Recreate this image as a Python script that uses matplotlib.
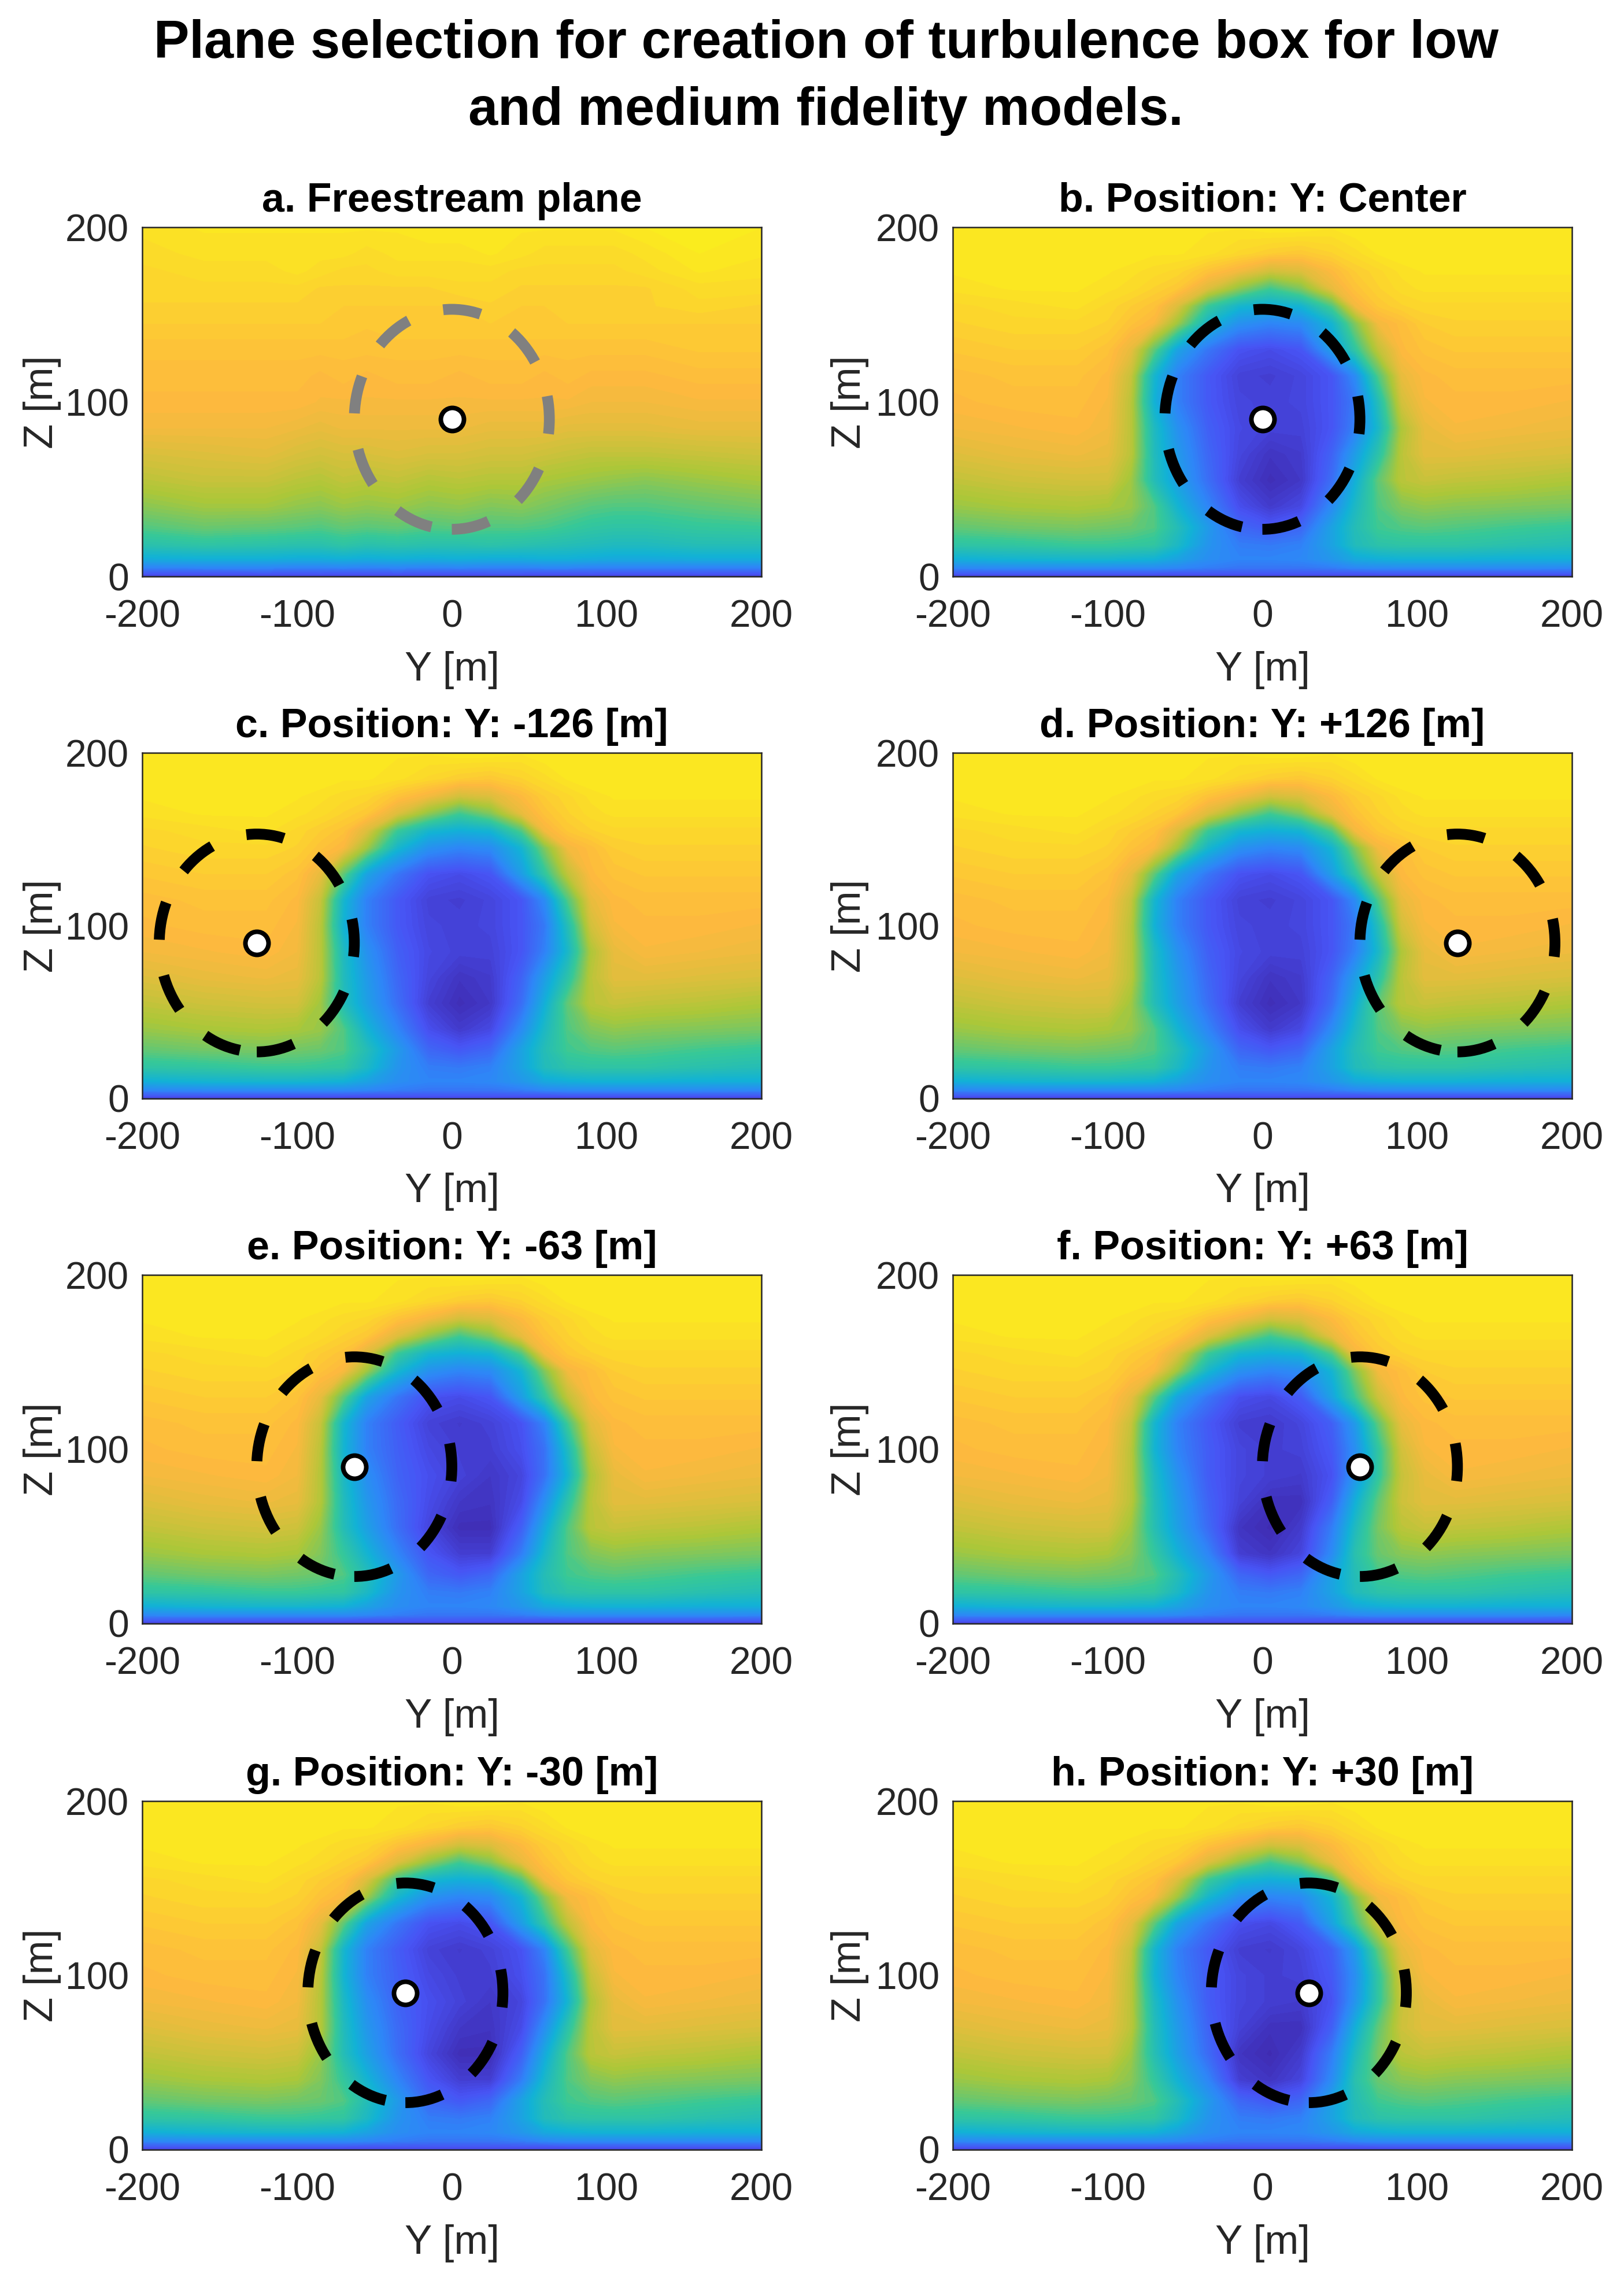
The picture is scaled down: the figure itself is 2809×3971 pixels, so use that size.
import numpy as np
from matplotlib import pyplot as plt
from matplotlib.colors import LinearSegmentedColormap
from matplotlib.patches import Ellipse

plt.rcParams['font.family'] = ['Liberation Sans', 'DejaVu Sans']
plt.rcParams['axes.unicode_minus'] = False

W, H = 2809, 3971
DPI = 300

# grid nodes of the sampled plane, metres
Y_NODES = [-200, -160, -120, -100, -85, -70, -55, -35, -15, 5, 25, 45, 60, 75, 90, 105, 125, 160, 200]
Z_NODES = [0, 2, 5, 10, 18, 28, 40, 55, 70, 85, 100, 115, 130, 145, 155, 165, 175, 185, 200]

# field, as percent of the colour scale
FREESTREAM = [
    [9, 9, 9, 9, 9, 9, 9, 9, 9, 9, 9, 9, 9, 9, 9, 9, 9, 9, 9],
    [17, 16, 17, 16, 17, 16, 16, 17, 16, 16, 17, 17, 16, 16, 17, 16, 16, 17, 16],
    [27, 28, 28, 27, 27, 28, 27, 28, 27, 28, 27, 27, 28, 28, 27, 27, 27, 27, 27],
    [41, 42, 42, 41, 41, 42, 41, 42, 41, 42, 41, 41, 42, 42, 41, 40, 40, 41, 41],
    [52, 54, 53, 52, 52, 54, 52, 53, 52, 52, 53, 52, 51, 50, 49, 48, 48, 50, 50],
    [60, 63, 62, 61, 60, 62, 61, 62, 60, 61, 60, 60, 59, 57, 55, 54, 54, 56, 57],
    [67, 70, 70, 68, 67, 69, 68, 69, 67, 68, 66, 67, 65, 63, 61, 60, 60, 62, 64],
    [74, 76, 76, 74, 73, 75, 74, 75, 73, 74, 73, 73, 71, 70, 69, 68, 67, 69, 71],
    [79, 80, 81, 79, 78, 79, 79, 80, 79, 79, 78, 78, 77, 76, 75, 75, 75, 76, 77],
    [84, 84, 84, 83, 82, 83, 83, 83, 83, 83, 82, 82, 82, 81, 81, 81, 81, 82, 82],
    [86, 86, 86, 86, 85, 85, 85, 85, 85, 85, 85, 85, 85, 85, 84, 84, 84, 85, 85],
    [87, 87, 87, 87, 86, 87, 86, 87, 87, 86, 87, 87, 86, 87, 86, 86, 86, 87, 87],
    [88, 88, 88, 88, 88, 88, 88, 88, 88, 88, 88, 88, 88, 88, 88, 88, 88, 89, 89],
    [90, 90, 90, 90, 90, 90, 89, 90, 90, 90, 90, 90, 90, 90, 90, 90, 90, 90, 90],
    [91, 91, 91, 91, 91, 90, 90, 90, 90, 90, 91, 90, 90, 91, 91, 91, 91, 92, 91],
    [92, 92, 92, 92, 91, 91, 91, 91, 91, 92, 92, 91, 91, 91, 91, 91, 91, 93, 93],
    [92, 93, 93, 94, 93, 92, 92, 93, 93, 93, 93, 92, 92, 92, 92, 92, 93, 95, 94],
    [93, 94, 94, 94, 94, 94, 93, 94, 94, 94, 95, 94, 93, 93, 93, 93, 94, 96, 95],
    [94, 95, 95, 95, 95, 95, 95, 95, 96, 96, 96, 95, 95, 95, 95, 95, 96, 97, 96],
]

# wake planes: bottom and top rows are shared, the middle differs with the position
WAKE_BOTTOM = [
    [9, 9, 9, 9, 9, 9, 9, 9, 10, 10, 10, 9, 9, 9, 9, 9, 9, 9, 9],
    [17, 17, 17, 17, 17, 17, 16, 16, 16, 16, 16, 16, 16, 17, 17, 17, 17, 17, 17],
    [29, 30, 30, 30, 30, 30, 29, 26, 24, 24, 24, 26, 29, 30, 30, 30, 30, 30, 29],
    [42, 44, 45, 45, 44, 43, 38, 31, 28, 28, 29, 34, 40, 42, 43, 43, 43, 42, 42],
    [54, 55, 57, 57, 56, 55, 47, 33, 26, 25, 27, 38, 49, 53, 54, 54, 54, 52, 50],
    [62, 64, 65, 64, 63, 60, 50, 35, 20, 16, 20, 38, 50, 58, 60, 61, 60, 58, 56],
]
WAKE_TOP = [
    [91, 92, 92, 91, 88, 85, 70, 45, 32, 28, 30, 44, 66, 84, 87, 90, 91, 91, 91],
    [92, 93, 94, 92, 90, 88, 80, 57, 45, 42, 44, 60, 84, 89, 91, 92, 92, 92, 92],
    [94, 95, 95, 94, 93, 91, 89, 80, 68, 58, 66, 82, 88, 91, 93, 94, 94, 94, 94],
    [95, 96, 96, 95, 94, 93, 92, 88, 84, 78, 80, 86, 90, 92, 94, 95, 95, 95, 95],
    [96, 96, 96, 96, 96, 95, 95, 94, 92, 90, 89, 91, 93, 95, 96, 96, 96, 96, 96],
    [95, 96, 96, 96, 96, 96, 96, 95, 95, 96, 96, 95, 96, 96, 96, 96, 96, 96, 96],
]
WAKE_MID_CENTER = [
    [69, 71, 72, 71, 69, 60, 44, 28, 13, 7, 11, 30, 47, 60, 66, 68, 67, 66, 65],
    [75, 77, 78, 78, 70, 50, 37, 22, 8, 3, 6, 22, 42, 62, 74, 76, 75, 74, 72],
    [80, 82, 83, 82, 74, 49, 35, 20, 10, 5, 7, 19, 36, 53, 74, 81, 81, 80, 79],
    [84, 85, 86, 84, 74, 48, 32, 18, 11, 9, 9, 15, 27, 46, 72, 82, 85, 84, 83],
    [86, 87, 87, 85, 74, 43, 27, 16, 10, 9, 10, 15, 25, 50, 78, 85, 86, 86, 85],
    [87, 88, 88, 86, 76, 45, 27, 16, 9, 8, 10, 15, 30, 60, 82, 86, 87, 87, 87],
    [89, 90, 90, 88, 82, 62, 38, 24, 14, 12, 15, 36, 55, 75, 86, 88, 89, 89, 89],
]
WAKE_MID_LEFT = [
    [69, 71, 72, 71, 66, 56, 44, 28, 15, 8, 8, 26, 46, 60, 66, 68, 67, 66, 65],
    [75, 77, 78, 77, 69, 50, 37, 22, 10, 3, 3, 18, 40, 60, 74, 76, 75, 74, 72],
    [80, 82, 83, 82, 73, 49, 34, 21, 12, 6, 5, 12, 31, 53, 74, 81, 81, 80, 79],
    [84, 85, 86, 84, 73, 47, 31, 19, 13, 9, 6, 10, 23, 44, 72, 82, 85, 84, 83],
    [86, 87, 87, 85, 74, 44, 27, 18, 11, 8, 8, 13, 23, 48, 76, 85, 86, 86, 85],
    [87, 88, 88, 86, 76, 45, 27, 17, 9, 7, 9, 14, 28, 58, 81, 86, 87, 87, 87],
    [89, 90, 90, 88, 82, 62, 38, 24, 14, 12, 15, 36, 55, 75, 86, 88, 89, 89, 89],
]
WAKE_MID_RIGHT = [
    [69, 71, 72, 71, 67, 56, 43, 28, 8, 5, 10, 30, 52, 63, 67, 68, 67, 66, 65],
    [75, 77, 78, 78, 70, 51, 37, 21, 5, 2, 7, 26, 48, 65, 74, 76, 75, 74, 72],
    [80, 82, 83, 82, 74, 50, 35, 19, 9, 4, 4, 18, 42, 62, 77, 81, 81, 80, 79],
    [84, 85, 86, 84, 74, 48, 32, 17, 10, 8, 7, 14, 33, 55, 76, 82, 85, 84, 83],
    [86, 87, 87, 85, 74, 44, 28, 17, 10, 8, 9, 16, 31, 55, 78, 85, 86, 86, 85],
    [87, 88, 88, 86, 76, 45, 27, 16, 8, 7, 10, 18, 35, 62, 82, 86, 87, 87, 87],
    [89, 90, 90, 88, 82, 62, 38, 24, 13, 11, 17, 38, 58, 77, 86, 88, 89, 89, 89],
]

TITLES = ['a. Freestream plane', 'b. Position: Y: Center',
          'c. Position: Y: -126 [m]', 'd. Position: Y: +126 [m]',
          'e. Position: Y: -63 [m]', 'f. Position: Y: +63 [m]',
          'g. Position: Y: -30 [m]', 'h. Position: Y: +30 [m]']
ROTOR_Y = [0, 0, -126, 126, -63, 63, -30, 30]
HUB_Z = 90
ROTOR_R = 63
Y_TICKS = [-200, -100, 0, 100, 200]
Z_TICKS = [0, 100, 200]

center = WAKE_BOTTOM + WAKE_MID_CENTER + WAKE_TOP
left = WAKE_BOTTOM + WAKE_MID_LEFT + WAKE_TOP
right = WAKE_BOTTOM + WAKE_MID_RIGHT + WAKE_TOP
FIELDS = [FREESTREAM, center, center, center, left, right, left, right]

parula = LinearSegmentedColormap.from_list('parula', [
    (0.0, (.2422, .1504, .6603)),
    (0.143, (.2810, .3228, .9579)),
    (0.286, (.1786, .5289, .9682)),
    (0.429, (.0689, .6948, .8394)),
    (0.571, (.2161, .7843, .5923)),
    (0.714, (.6720, .7793, .2227)),
    (0.86, (.9950, .7250, .2450)),
    (1.0, (.9769, .9839, .0805)),
], N=256)

# axes boxes in reference pixels
LEFTS = [246, 1648]
TOPS = [393, 1302, 2205, 3115]
BOTTOMS = [997, 1900, 2808, 3718]
BOX_W = 1071
YLABEL_X = [-0.131, -0.135]

fig = plt.figure(figsize=(W / DPI, H / DPI), dpi=DPI)
fig.text(0.5086, 1 - 76 / H, 'Plane selection for creation of turbulence box for low',
         ha='center', va='center', fontsize=22.1, fontweight='bold')
fig.text(0.5086, 1 - 192 / H, 'and medium fidelity models.',
         ha='center', va='center', fontsize=22.1, fontweight='bold')

levels = np.arange(0, 101, 1.2)
for i, title in enumerate(TITLES):
    row, col = i // 2, i % 2
    ax = fig.add_axes([LEFTS[col] / W, 1 - BOTTOMS[row] / H, BOX_W / W, (BOTTOMS[row] - TOPS[row]) / H])
    ax.contourf(Y_NODES, Z_NODES, FIELDS[i], levels=levels, cmap=parula, vmin=0, vmax=100)

    edge = 'gray' if i == 0 else 'black'
    ax.add_patch(Ellipse((ROTOR_Y[i], HUB_Z), 2 * ROTOR_R, 2 * ROTOR_R, fill=False, ec=edge,
                         lw=4.5, ls=(0, (3.5, 3.35)), capstyle='butt', zorder=3))
    ax.plot([ROTOR_Y[i]], [HUB_Z], 'o', ms=9.6, mfc='white', mec='black', mew=1.9, zorder=4)

    ax.set_xlim(-200, 200)
    ax.set_ylim(0, 200)
    ax.set_xticks(Y_TICKS)
    ax.set_yticks(Z_TICKS)
    ax.tick_params(axis='x', length=0, pad=9.5, labelsize=15.8, labelcolor='#262626')
    ax.tick_params(axis='y', length=0, pad=5.5, labelsize=15.8, labelcolor='#262626')
    for spine in ax.spines.values():
        spine.set_color('#262626')
        spine.set_linewidth(0.6)
    ax.set_xlabel('Y [m]', fontsize=17, color='#262626')
    ax.set_ylabel('Z [m]', fontsize=17, color='#262626')
    ax.xaxis.set_label_coords(0.5, -0.214)
    ax.yaxis.set_label_coords(YLABEL_X[col], 0.5)
    ax.set_title(title, fontsize=16.8, fontweight='bold', pad=6.5)

fig.savefig('out.png', dpi=DPI)
